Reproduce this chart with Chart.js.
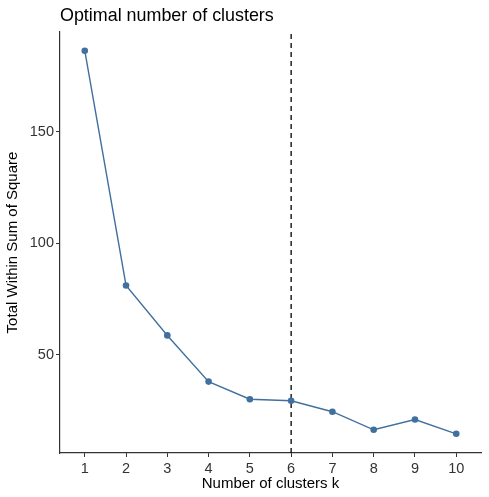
<!DOCTYPE html>
<html>
<head>
<meta charset="utf-8">
<script src="https://cdn.jsdelivr.net/npm/chart.js@4"></script>
<style>
  html, body { margin: 0; padding: 0; background: #fff; }
  #wrap { width: 489px; height: 497px; }
</style>
</head>
<body>
<div id="wrap"><canvas id="elbow"></canvas></div>
<script>
// k values and total within-cluster sum of squares
const clusterCounts = [1, 2, 3, 4, 5, 6, 7, 8, 9, 10]
const withinSS = [186.2, 81.0, 58.6, 37.9, 30.0, 29.3, 24.4, 16.3, 20.9, 14.5]
const yTickValues = [50, 100, 150]
const optimalK = 6

const FONT = "'Liberation Sans', Arial, sans-serif"
const LINE_COLOR = "#41709e"

// title drawn at the left edge of the plot panel, like ggplot
const panelTitle = {
  id: "panelTitle",
  afterDraw(chart) {
    const ctx = chart.ctx
    ctx.save()
    ctx.font = "17.9px " + FONT
    ctx.fillStyle = "#000"
    ctx.textBaseline = "alphabetic"
    ctx.fillText("Optimal number of clusters", chart.chartArea.left, 21)
    ctx.restore()
  },
}

const yMin = 5.9
const yMax = 194.6

const createElbowChart = (canvas) => {
  const ctx = canvas.getContext("2d")
  const points = clusterCounts.map((k, i) => ({ x: k, y: withinSS[i] }))

  return new Chart(ctx, {
    type: "line",
    data: {
      datasets: [
        {
          data: [{ x: optimalK, y: yMin }, { x: optimalK, y: yMax }],
          borderColor: "#000",
          borderWidth: 1.3,
          borderDash: [5, 4],
          pointRadius: 0,
          order: 2,
        },
        {
          data: points,
          borderColor: LINE_COLOR,
          backgroundColor: LINE_COLOR,
          borderWidth: 1.4,
          pointRadius: 3.3,
          pointBorderWidth: 0,
          tension: 0,
          order: 1,
        },
      ],
    },
    options: {
      responsive: true,
      maintainAspectRatio: false,
      animation: false,
      layout: { padding: { top: 32, right: 8, left: 0, bottom: 0 } },
      plugins: {
        legend: { display: false },
        tooltip: { enabled: false },
      },
      scales: {
        x: {
          type: "linear",
          min: 0.4,
          max: 10.6,
          afterBuildTicks: (scale) => {
            scale.ticks = clusterCounts.map((v) => ({ value: v }))
          },
          afterFit: (scale) => { scale.height = 44 },
          grid: {
            drawOnChartArea: false,
            drawTicks: true,
            tickLength: 4,
            color: "#333",
            lineWidth: 1,
          },
          border: { display: true, color: "#333", width: 1.2 },
          ticks: {
            color: "#333",
            font: { family: FONT, size: 14.5 },
            padding: 3,
            maxRotation: 0,
            autoSkip: false,
          },
          title: {
            display: true,
            text: "Number of clusters k",
            color: "#000",
            font: { family: FONT, size: 15 },
            padding: { top: 0, bottom: 4 },
          },
        },
        y: {
          min: yMin,
          max: yMax,
          afterBuildTicks: (scale) => {
            scale.ticks = yTickValues.map((v) => ({ value: v }))
          },
          afterFit: (scale) => { scale.width = 60 },
          grid: {
            drawOnChartArea: false,
            drawTicks: true,
            tickLength: 4,
            color: "#333",
            lineWidth: 1,
          },
          border: { display: true, color: "#333", width: 1.2 },
          ticks: {
            color: "#333",
            font: { family: FONT, size: 14.5 },
            padding: 2,
          },
          title: {
            display: true,
            text: "Total Within Sum of Square",
            color: "#000",
            font: { family: FONT, size: 15 },
            padding: { top: 4, bottom: 0 },
          },
        },
      },
    },
    plugins: [panelTitle],
  })
}

createElbowChart(document.getElementById("elbow"))
</script>
</body>
</html>
